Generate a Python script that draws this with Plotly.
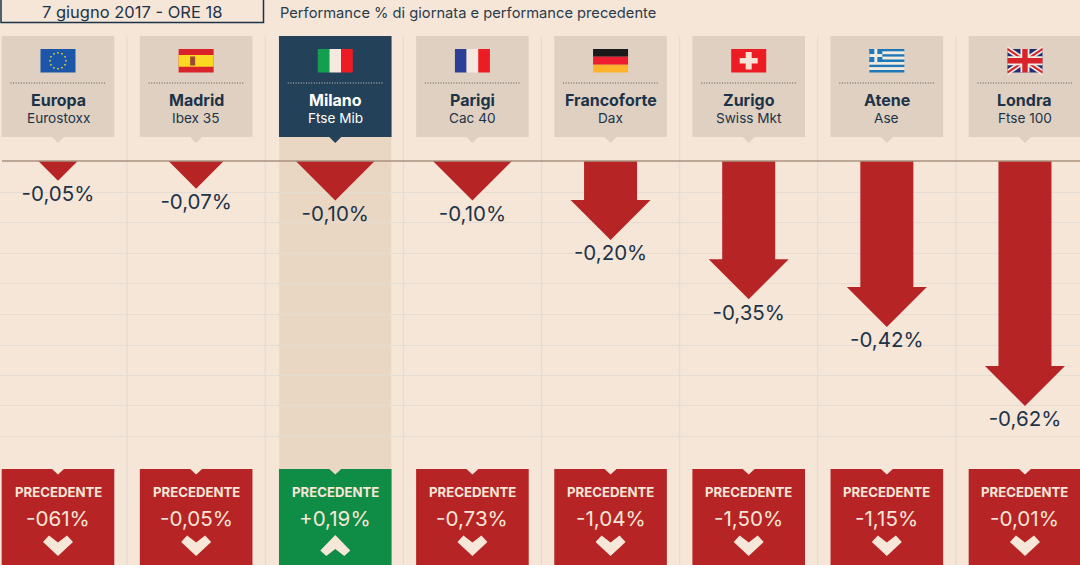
import plotly.graph_objects as go

W, H = 1080, 565

cities = ['Europa', 'Madrid', 'Milano', 'Parigi', 'Francoforte', 'Zurigo', 'Atene', 'Londra']
indexes = ['Eurostoxx', 'Ibex 35', 'Ftse Mib', 'Cac 40', 'Dax', 'Swiss Mkt', 'Ase', 'Ftse 100']
values = [-0.05, -0.07, -0.10, -0.10, -0.20, -0.35, -0.42, -0.62]
value_labels = ['-0,05%', '-0,07%', '-0,10%', '-0,10%', '-0,20%', '-0,35%', '-0,42%', '-0,62%']
prev_labels = ['-061%', '-0,05%', '+0,19%', '-0,73%', '-1,04%', '-1,50%', '-1,15%', '-0,01%']
prev_up = [False, False, True, False, False, False, False, False]
flags = ['eu', 'es', 'it', 'fr', 'de', 'ch', 'gr', 'uk']

BG = '#f5e6d8'
CARD = '#dfd0c1'
NAVY = '#24415a'
INK = '#1d3348'
RED = '#b72426'
GREEN = '#0f8c45'
FONT = 'Inter'

# scales: column spacing and pixels per point of performance
COL = 138.14
X0 = 58
ZERO = 161
SCALE = 395
GRID_PX = [192, 222, 253, 283, 314, 345, 375, 405, 436]
# the highlighted column sits about 1px right of the regular spacing
col_pos = [i + (1 / COL if i == 2 else 0) for i in range(8)]
centers = [X0 + COL * p for p in col_pos]


def px(x):
    return x / W


def py(y):
    return 1 - y / H


def rect(x0, y0, x1, y1, color, layer='below'):
    return dict(type='rect', xref='paper', yref='paper', x0=px(x0), x1=px(x1), y0=py(y0), y1=py(y1),
                fillcolor=color, line_width=0, layer=layer)


def poly(points, color, layer='above'):
    d = 'M' + ' L'.join(f'{px(x):.5f},{py(y):.5f}' for x, y in points) + ' Z'
    return dict(type='path', xref='paper', yref='paper', path=d, fillcolor=color, line_width=0, layer=layer)


def text(x, y, s, size, color, bold=False, anchor='center'):
    return dict(xref='paper', yref='paper', x=px(x), y=py(y), text=f'<b>{s}</b>' if bold else s,
                showarrow=False, xanchor=anchor, yanchor='middle',
                font=dict(family=FONT, size=size, color=color))


def flag_shapes(kind, c):
    l, r, t, b = c - 17.5, c + 17.5, 49, 72.5
    w, h = r - l, b - t
    out = []
    if kind == 'eu':
        out.append(rect(l, t, r, b, '#1c56a8', 'above'))
        for dx, dy in [(0, -8), (4, -7), (7, -4), (8, 0), (7, 4), (4, 7), (0, 8), (-4, 7), (-7, 4), (-8, 0), (-7, -4), (-4, -7)]:
            out.append(rect(c + dx - .8, 60.7 + dy - .8, c + dx + .8, 60.7 + dy + .8, '#e8cf3a', 'above'))
    elif kind == 'es':
        out.append(rect(l, t, r, b, '#d8232a', 'above'))
        out.append(rect(l, t + h * .25, r, t + h * .75, '#fbd822', 'above'))
        out.append(rect(c - 6, 56.5, c - 1, 65.5, '#9a4a30', 'above'))
    elif kind in ('it', 'fr'):
        a, m, z = ('#12a050', '#f5e9df', '#ed1c24') if kind == 'it' else ('#2c3e96', '#f5e9df', '#ed1c24')
        for i, col in enumerate((a, m, z)):
            out.append(rect(l + w * i / 3, t, l + w * (i + 1) / 3, b, col, 'above'))
    elif kind == 'de':
        for i, col in enumerate(('#1b1a1b', '#ed1c2e', '#fdb32b')):
            out.append(rect(l, t + h * i / 3, r, t + h * (i + 1) / 3, col, 'above'))
    elif kind == 'ch':
        out.append(rect(l, t, r, b, '#ed1c24', 'above'))
        out.append(rect(c - 9, 58, c + 9, 63.5, '#f7e3d3', 'above'))
        out.append(rect(c - 3, 52, c + 3, 69.5, '#f7e3d3', 'above'))
    elif kind == 'gr':
        for i in range(9):
            out.append(rect(l, t + h * i / 9, r, t + h * (i + 1) / 9, '#1f78b8' if i % 2 == 0 else '#f2ebe2', 'above'))
        out.append(rect(l, t, l + 13, t + h * 5 / 9, '#1f78b8', 'above'))
        out.append(rect(l + 5, t, l + 8, t + h * 5 / 9, '#f2ebe2', 'above'))
        out.append(rect(l, t + 5, l + 13, t + 8, '#f2ebe2', 'above'))
    elif kind == 'uk':
        out.append(rect(l, t, r, b, '#232c70', 'above'))
        for (x0, y0, x1, y1) in [(l, t, r, b), (l, b, r, t)]:
            for col, th in (('#f2ebe2', 3.2), ('#d8232a', 1.2)):
                out.append(poly([(x0, y0 - th), (x0, y0 + th), (x1, y1 + th), (x1, y1 - th)], col))
        out.append(rect(c - 4.5, t, c + 4.5, b, '#f2ebe2', 'above'))
        out.append(rect(l, 60.75 - 4.5, r, 60.75 + 4.5, '#f2ebe2', 'above'))
        out.append(rect(c - 2.7, t, c + 2.7, b, '#d8232a', 'above'))
        out.append(rect(l, 60.75 - 2.7, r, 60.75 + 2.7, '#d8232a', 'above'))
    return out


# arrows, built from the values on the data axes
SHAFT = 26.5 / COL
HEAD_W = 40 / COL
HEAD_H = 40 / SCALE
LABEL_GAP = 5 / SCALE
xs, ys = [], []
for p, v in zip(col_pos, values):
    depth = -v
    if depth <= HEAD_H:
        hw = depth * SCALE / COL
        xs += [p - hw, p + hw, p, None]
        ys += [0, 0, v, None]
    else:
        neck = v + HEAD_H
        xs += [p - SHAFT, p + SHAFT, p + SHAFT, p + HEAD_W, p, p - HEAD_W, p - SHAFT, None]
        ys += [0, 0, neck, neck, v, neck, neck, None]

fig = go.Figure()
fig.add_trace(go.Scatter(x=xs, y=ys, mode='lines', fill='toself', fillcolor=RED,
                         line=dict(color=RED, width=0), hoverinfo='skip'))
fig.add_trace(go.Scatter(x=col_pos, y=[v - LABEL_GAP for v in values], mode='text', text=value_labels,
                         textposition='bottom center', hoverinfo='skip',
                         textfont=dict(family=FONT, size=20.5, color=INK)))

shapes = []
annotations = []

# header
shapes.append(dict(type='rect', xref='paper', yref='paper', x0=px(1), x1=px(263.5), y0=py(-2), y1=py(22.5),
                   fillcolor='rgba(0,0,0,0)', line=dict(color=INK, width=1.5), layer='above'))
annotations.append(text(132, 12, '7 giugno 2017 - ORE 18', 16.5, INK))
annotations.append(text(278, 13.5, 'Performance % di giornata e performance precedente', 14.7, '#2a3c4d', anchor='left'))

# column separators and Milano band
for i in range(7):
    x = i + 0.5
    shapes.append(dict(type='line', xref='x', yref='paper', x0=x, x1=x, y0=0, y1=py(36),
                       line=dict(color='#e5dcd3', width=1.2), layer='below'))
shapes.insert(0, rect(centers[2] - 56, 137, centers[2] + 56, 470, '#e9d7c4'))

for i, c in enumerate(centers):
    selected = i == 2
    card = NAVY if selected else CARD
    shapes.append(rect(c - 56.3, 36, c + 56.3, 137, card))
    shapes.append(poly([(c - 6, 137), (c + 6, 137), (c, 143)], card, 'below'))
    shapes.extend(flag_shapes(flags[i], c))
    shapes.append(dict(type='line', xref='paper', yref='paper', x0=px(c - 47.5), x1=px(c + 47.5), y0=py(83), y1=py(83),
                       line=dict(color='#d5d0c8' if selected else '#55585a', width=1, dash='1px,1.6px'), layer='above'))
    annotations.append(text(c, 100, cities[i], 16, '#ffffff' if selected else INK, bold=True))
    annotations.append(text(c, 118.5, indexes[i], 13.6, '#ffffff' if selected else INK))

    box = GREEN if prev_up[i] else RED
    shapes.append(rect(c - 56.3, 469, c + 56.3, 566, box, 'above'))
    shapes.append(poly([(c - 6.5, 468.5), (c + 6.5, 468.5), (c, 474.5)], BG if not selected else '#e9d7c4'))
    annotations.append(text(c, 491.5, 'PRECEDENTE', 13.2, '#f7e7d8', bold=True))
    annotations.append(text(c, 518, prev_labels[i], 20.6, '#f7e7d8'))
    if prev_up[i]:
        pts = [(c - 15, 550.5), (c, 535), (c + 15, 550.5), (c + 9, 556), (c, 549), (c - 9, 556)]
    else:
        pts = [(c - 15, 542), (c - 9, 535.5), (c, 542.5), (c + 9, 535.5), (c + 15, 542), (c, 556)]
    shapes.append(poly(pts, '#f7e7d8'))

# baseline over the arrows
shapes.append(dict(type='line', xref='paper', yref='y', x0=px(2), x1=1, y0=0, y1=0,
                   line=dict(color='#a8917f', width=1.4), layer='above'))

fig.update_layout(
    width=W, height=H, margin=dict(l=0, r=0, t=0, b=0), autosize=False,
    paper_bgcolor=BG, plot_bgcolor='rgba(0,0,0,0)', showlegend=False,
    shapes=shapes, annotations=annotations,
    xaxis=dict(range=[-X0 / COL, (W - X0) / COL], visible=False, fixedrange=True),
    yaxis=dict(range=[-(H - ZERO) / SCALE, ZERO / SCALE], fixedrange=True, showticklabels=False,
               ticks='', zeroline=False, showline=False, showgrid=True, gridcolor='#e5ddd4', gridwidth=1.2,
               tickmode='array', tickvals=[-(p - ZERO) / SCALE for p in GRID_PX]),
)

# page margin would shift the picture by 8px
fig.write_html('out.html', config=dict(displayModeBar=False),
               post_script="document.body.style.margin='0';document.documentElement.style.background='%s';" % BG)
